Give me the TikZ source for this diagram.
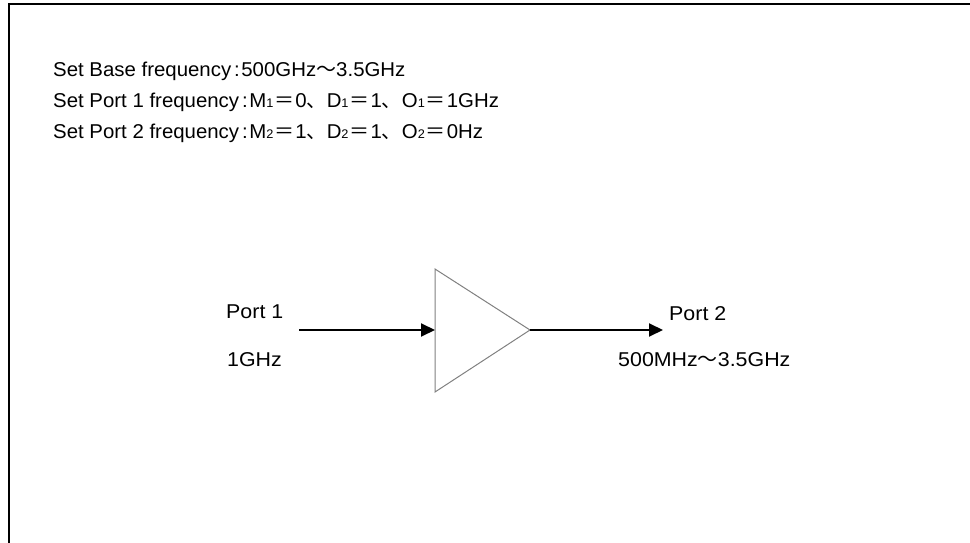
\documentclass[tikz,border=0pt]{standalone}
\usepackage{fontspec}
\setmainfont{Liberation Sans}[FakeStretch=1.07]
\newfontfamily\upfont{Liberation Sans}[FakeStretch=1.02]
\newfontfamily\cjkfont{Noto Sans CJK JP}
\usetikzlibrary{arrows.meta}
\newcommand{\wv}{{\cjkfont ～}}
\newcommand{\eqq}{\hspace{1pt}{\cjkfont ＝}\hspace{1pt}}
\newcommand{\cm}{{\cjkfont 、}}
\newcommand{\sbs}[1]{{\fontsize{12.5}{12.5}\selectfont #1}}
\newcommand{\clnx}{\hspace{3pt}:\hspace{1.5pt}}
\begin{document}
\begin{tikzpicture}[x=1pt,y=-1pt,
  txt/.style={anchor=base west,inner sep=0pt,font=\fontsize{20}{24}\selectfont},
  hdr/.style={anchor=base west,inner sep=0pt,font=\upfont\fontsize{20}{24}\selectfont},
  arr/.style={line width=2pt,-{Triangle[length=14pt,width=13pt]}},
  amp/.style={draw=gray,line width=1pt,line join=miter},
  frame/.style={line width=2pt}]
\useasboundingbox (0,0) rectangle (970,543);
% frame (top and left edges only)
\coordinate (fa) at (8.5,543);
\coordinate (fb) at (8.5,4);
\coordinate (fc) at (970,4);
\draw[frame] (fa) -- (fb) -- (fc);
% header text
\node[hdr] (l1) at (53,77) {Set Base frequency\clnx 500GHz\wv 3.5GHz};
\node[hdr] (l2) at (53,107) {Set Port 1 frequency\clnx M\sbs{1}\eqq 0\cm D\sbs{1}\eqq 1\cm O\sbs{1}\eqq 1GHz};
\node[hdr] (l3) at (53,138) {Set Port 2 frequency\clnx M\sbs{2}\eqq 1\cm D\sbs{2}\eqq 1\cm O\sbs{2}\eqq 0Hz};
% amplifier
\coordinate (tl) at (435,269);
\coordinate (bl) at (435,392);
\coordinate (tip) at (530,330);
\coordinate (ampin) at (435,330);
\draw[amp] (tl) -- (tip) -- (bl) -- cycle;
% ports
\coordinate (src) at (299,330);
\coordinate (dst) at (663,330);
\draw[arr] (src) -- (ampin);
\draw[arr] (tip) -- (dst);
\node[txt] (p1) at (226,318) {Port 1};
\node[txt] (f1) at (227,366) {1GHz};
\node[txt] (p2) at (669,320) {Port 2};
\node[txt] (f2) at (618,366) {500MHz\wv 3.5GHz};
\end{tikzpicture}
\end{document}
